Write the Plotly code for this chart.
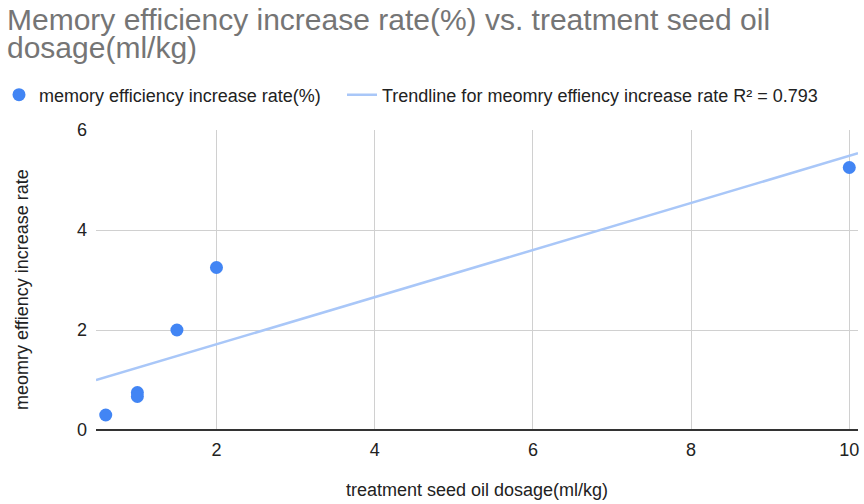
import numpy as np
import plotly.graph_objects as go

dosage = [0.6, 1.0, 1.0, 1.5, 2.0, 10.0]
increase_rate = [0.3, 0.75, 0.67, 2.0, 3.25, 5.25]
x_ticks = [2, 4, 6, 8, 10]
y_ticks = [0, 2, 4, 6]
title_lines = ["Memory efficiency increase rate(%) vs. treatment seed oil", "dosage(ml/kg)"]
y_title = "meomry effiency increase rate"
x_title = "treatment seed oil dosage(ml/kg)"

xa = np.array(dosage)
ya = np.array(increase_rate)
slope, intercept = np.polyfit(xa, ya, 1)
x_range = [0.477, 10.11]
trend_x = np.array(x_range)
trend_y = slope * trend_x + intercept

FONT = "Liberation Sans, Arial, sans-serif"

W, H = 864, 504
ML, MR, MT, MB = 96, 6, 130, 74
PW, PH = W - ML - MR, H - MT - MB


def px(fx):
    return (fx - ML) / PW


def py(fy):
    return 1 + (MT - fy) / PH


fig = go.Figure()
fig.add_trace(go.Scatter(
    x=dosage, y=increase_rate, mode="markers",
    name="memory efficiency increase rate(%)",
    marker=dict(color="#4285F4", size=13, line=dict(width=0)),
    legend="legend",
))
fig.add_trace(go.Scatter(
    x=trend_x, y=trend_y, mode="lines",
    name="Trendline for meomry effiency increase rate R\u00b2 = 0.793",
    line=dict(color="#A9C7F8", width=2.5),
    legend="legend2",
))

annos = []
for txt, fy in zip(title_lines, [19.2, 47.0]):
    annos.append(dict(
        text=txt, xref="paper", yref="paper", x=px(5), y=py(fy),
        xanchor="left", yanchor="middle", showarrow=False,
        font=dict(family=FONT, size=30, color="#757575"),
    ))
annos.append(dict(
    text=y_title, xref="paper", yref="paper", x=px(21.5), y=py(289.5),
    xanchor="center", yanchor="middle", textangle=-90, showarrow=False,
    font=dict(family=FONT, size=18, color="#222222"),
))

legend_common = dict(
    orientation="h", yanchor="middle", y=py(95),
    font=dict(family=FONT, size=18, color="#222222"),
    itemwidth=30, bgcolor="rgba(0,0,0,0)",
)

fig.update_layout(
    width=W, height=H,
    margin=dict(l=ML, r=MR, t=MT, b=MB, autoexpand=False),
    paper_bgcolor="white", plot_bgcolor="white",
    font=dict(family=FONT, size=18, color="#222222"),
    annotations=annos,
    legend=dict(x=px(-1), xanchor="left", **legend_common),
    legend2=dict(x=px(342), xanchor="left", **legend_common),
    showlegend=True,
)
fig.update_xaxes(
    range=x_range, tickvals=x_ticks, ticktext=[str(v) for v in x_ticks],
    showgrid=True, gridcolor="#D0D0D0", gridwidth=1,
    zeroline=False, showline=False, ticks="", automargin=False,
    ticklabelstandoff=7,
    tickfont=dict(size=18, color="#222222"),
    title=dict(text=x_title, standoff=24,
               font=dict(size=18, color="#222222")),
)
fig.update_yaxes(
    range=[0, 6], tickvals=y_ticks, ticktext=[str(v) for v in y_ticks],
    showgrid=True, gridcolor="#D0D0D0", gridwidth=1,
    zeroline=True, zerolinecolor="#333333", zerolinewidth=1.5,
    showline=False, ticks="", ticklabelstandoff=8, automargin=False,
    tickfont=dict(size=18, color="#222222"),
)

fig.write_html(
    "out.html",
    config={"displayModeBar": False},
    post_script="document.body.style.margin='0';document.documentElement.style.overflow='hidden';",
)
